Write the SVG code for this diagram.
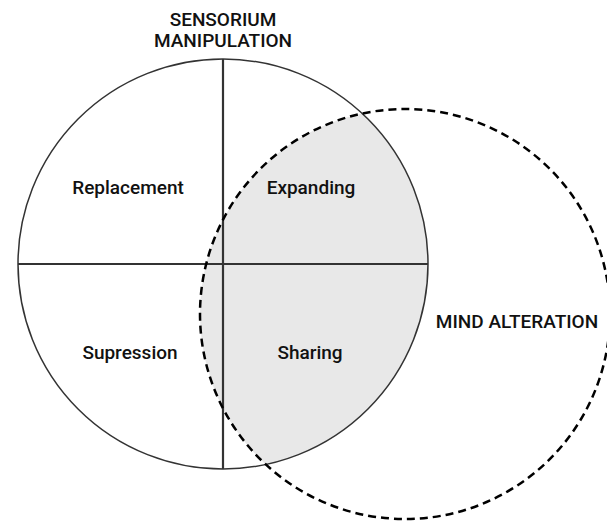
<svg xmlns="http://www.w3.org/2000/svg" width="607" height="521" viewBox="0 0 607 521">
<style>
text{font-family:Roboto,"Liberation Sans",sans-serif;font-weight:500;font-size:19px;fill:#111;text-anchor:middle}
.solid{fill:none;stroke:#333;stroke-width:1.5}
.axis{stroke:#333;stroke-width:2.2}
.dash{fill:none;stroke:#000;stroke-width:2.5;stroke-dasharray:8 5}
</style>
<rect width="607" height="521" fill="#fff"/>
<path id="overlap" d="M362.2 113.5 A205 205 0 0 1 265.8 464.5 A205 205 0 0 1 362.2 113.5 Z" fill="#e8e8e8"/>
<g id="sensorium">
<circle class="solid" cx="223" cy="264" r="205"/>
<text x="223" y="25.5">SENSORIUM</text>
<text x="223" y="47">MANIPULATION</text>
</g>
<g id="connectors">
<line class="axis" x1="223" y1="59" x2="223" y2="469"/>
<line class="axis" x1="18" y1="264" x2="428" y2="264"/>
</g>
<g id="mind">
<circle class="dash" cx="405" cy="314" r="205"/>
<text x="517" y="327.5">MIND ALTERATION</text>
</g>
<g id="replacement"><text x="128" y="193.5">Replacement</text></g>
<g id="expanding"><text x="311" y="193.5">Expanding</text></g>
<g id="supression"><text x="130" y="358.5">Supression</text></g>
<g id="sharing"><text x="310" y="358.5">Sharing</text></g>
</svg>
